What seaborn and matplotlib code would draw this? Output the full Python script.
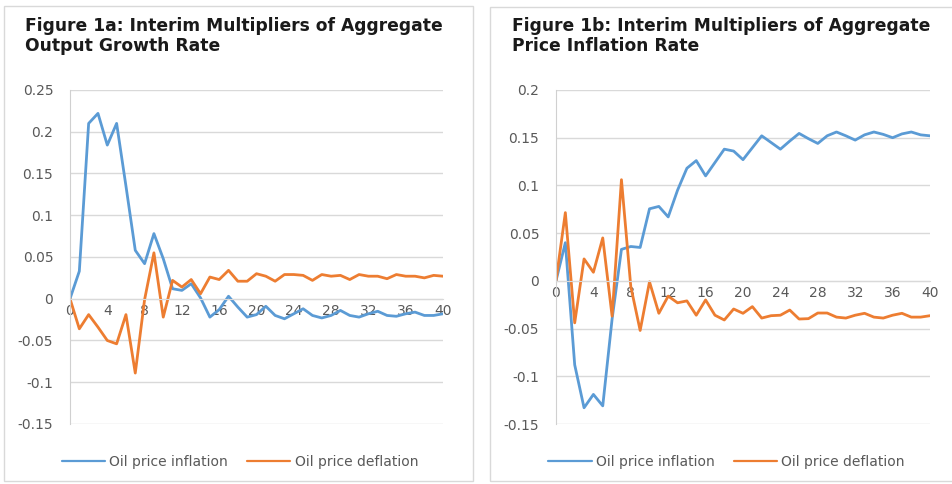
import numpy as np
import pandas as pd
import seaborn as sns
from matplotlib import pyplot as plt
from matplotlib.patches import Rectangle

# data
horizon = list(range(41))

output_inflation = [0, 0.033, 0.210, 0.222, 0.184, 0.210, 0.135, 0.058, 0.042, 0.078,
                    0.048, 0.012, 0.010, 0.018, 0.001, -0.022, -0.013, 0.003, -0.010, -0.022,
                    -0.019, -0.009, -0.020, -0.024, -0.018, -0.012, -0.020, -0.023, -0.020, -0.014,
                    -0.020, -0.022, -0.018, -0.015, -0.020, -0.021, -0.018, -0.016, -0.020, -0.020,
                    -0.018]
output_deflation = [0, -0.036, -0.019, -0.034, -0.050, -0.054, -0.019, -0.089, -0.001, 0.055,
                    -0.022, 0.022, 0.014, 0.023, 0.006, 0.026, 0.023, 0.034, 0.021, 0.021,
                    0.030, 0.027, 0.021, 0.029, 0.029, 0.028, 0.022, 0.029, 0.027, 0.028,
                    0.023, 0.029, 0.027, 0.027, 0.024, 0.029, 0.027, 0.027, 0.025, 0.028,
                    0.027]

price_inflation = [0, 0.040, -0.088, -0.133, -0.119, -0.131, -0.040, 0.033, 0.036, 0.035,
                   0.0755, 0.078, 0.067, 0.095, 0.118, 0.126, 0.110, 0.124, 0.138, 0.136,
                   0.127, 0.1395, 0.152, 0.145, 0.138, 0.1465, 0.1545, 0.149, 0.144, 0.152,
                   0.156, 0.152, 0.1475, 0.153, 0.156, 0.1535, 0.150, 0.154, 0.156, 0.153,
                   0.152]
price_deflation = [0, 0.0715, -0.044, 0.023, 0.009, 0.045, -0.037, 0.106, -0.006, -0.052,
                   -0.001, -0.034, -0.016, -0.023, -0.021, -0.036, -0.020, -0.036, -0.041, -0.0295,
                   -0.034, -0.027, -0.039, -0.0365, -0.036, -0.0306, -0.040, -0.0396, -0.0337, -0.0337,
                   -0.038, -0.039, -0.036, -0.034, -0.038, -0.039, -0.036, -0.034, -0.038, -0.038,
                   -0.0365]

series_names = ['Oil price inflation', 'Oil price deflation']
titles = ['Figure 1a: Interim Multipliers of Aggregate\nOutput Growth Rate',
          'Figure 1b: Interim Multipliers of Aggregate\nPrice Inflation Rate']
xticks = list(range(0, 41, 4))
yticks_a = [-0.15, -0.1, -0.05, 0, 0.05, 0.1, 0.15, 0.2, 0.25]
ylabels_a = ['-0.15', '-0.1', '-0.05', '0', '0.05', '0.1', '0.15', '0.2', '0.25']
yticks_b = [-0.15, -0.1, -0.05, 0, 0.05, 0.1, 0.15, 0.2]
ylabels_b = ['-0.15', '-0.1', '-0.05', '0', '0.05', '0.1', '0.15', '0.2']

sns.set_style('white')
plt.rcParams['font.family'] = ['DejaVu Sans']

colors = ['#5B9BD5', '#ED7D31']
grid_c = '#d9d9d9'
text_c = '#595959'

W, H = 953, 484
fig = plt.figure(figsize=(W / 100, H / 100), dpi=100)


def px_axes(x0, y0, x1, y1):
    # pixel box -> figure fraction
    return fig.add_axes([x0 / W, 1 - y1 / H, (x1 - x0) / W, (y1 - y0) / H])


def make_df(a, b):
    return pd.DataFrame({
        'horizon': horizon * 2,
        'value': a + b,
        'series': [series_names[0]] * len(a) + [series_names[1]] * len(b)})


panels = [
    (px_axes(70, 90, 443, 424), make_df(output_inflation, output_deflation),
     yticks_a, ylabels_a, (-0.15, 0.25)),
    (px_axes(556, 90, 930, 424), make_df(price_inflation, price_deflation),
     yticks_b, ylabels_b, (-0.15, 0.2)),
]

for ax, df, yt, yl, ylim in panels:
    sns.lineplot(data=df, x='horizon', y='value', hue='series', palette=colors,
                 linewidth=2.0, ax=ax)
    ax.set_xlim(0, 40)
    ax.set_ylim(*ylim)
    ax.set_xticks(xticks)
    ax.set_yticks(yt)
    ax.set_yticklabels(yl)
    ax.set_xlabel('')
    ax.set_ylabel('')
    ax.grid(axis='y', color=grid_c, linewidth=1)
    ax.set_axisbelow(True)
    for s in ['top', 'right']:
        ax.spines[s].set_visible(False)
    ax.spines['left'].set_color('#d0d0d0')
    ax.spines['bottom'].set_color(grid_c)
    ax.spines['bottom'].set_position(('data', 0))
    ax.tick_params(length=0, colors=text_c, labelsize=10)
    ax.tick_params(axis='y', pad=12)
    ax.tick_params(axis='x', pad=4)
    handles, labels = ax.get_legend_handles_labels()
    leg = ax.legend(handles, labels, loc='center', bbox_to_anchor=(0.456, -0.114),
                    ncol=2, frameon=False, fontsize=10, handlelength=3.1,
                    handletextpad=0.3, columnspacing=1.4, labelcolor=text_c)
    for ln in leg.get_lines():
        ln.set_linewidth(1.6)

# titles
fig.text(25 / W, 1 - 17 / H, titles[0], ha='left', va='top', fontsize=12.3,
         fontweight='bold', color='#1a1a1a', linespacing=1.15)
fig.text(512 / W, 1 - 17 / H, titles[1], ha='left', va='top', fontsize=12.3,
         fontweight='bold', color='#1a1a1a', linespacing=1.15)

# chart area borders
for x0, y0, x1, y1 in [(4, 6, 473, 481), (490, 7, 960, 481)]:
    fig.patches.append(Rectangle((x0 / W, 1 - y1 / H), (x1 - x0) / W, (y1 - y0) / H,
                                 transform=fig.transFigure, fill=False,
                                 edgecolor=grid_c, linewidth=1))

plt.savefig('out.png', dpi=100)
